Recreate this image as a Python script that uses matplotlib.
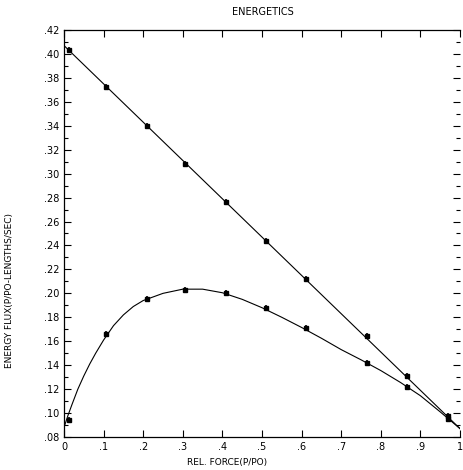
import numpy as np
import matplotlib.pyplot as plt

force_pts = [0.013, 0.105, 0.209, 0.306, 0.41, 0.51, 0.61, 0.766, 0.867, 0.97]
upper_pts = [0.403, 0.3725, 0.340, 0.308, 0.276, 0.244, 0.212, 0.164, 0.131, 0.0975]
lower_pts = [0.094, 0.166, 0.195, 0.203, 0.200, 0.188, 0.171, 0.142, 0.122, 0.095]

# fitted lines
upper_fit_x = [0.0, 1.0]
upper_fit_y = [0.407, 0.087]
lower_fit_x = [0.0, 0.01, 0.02, 0.035, 0.05, 0.065, 0.08, 0.1, 0.125, 0.15, 0.175, 0.2,
               0.25, 0.3, 0.35, 0.4, 0.45, 0.5, 0.55, 0.6, 0.65, 0.7, 0.75, 0.8, 0.85, 0.9, 0.95, 1.0]
lower_fit_y = [0.088, 0.098, 0.107, 0.120, 0.131, 0.141, 0.150, 0.161, 0.173, 0.182, 0.189, 0.194,
               0.200, 0.2035, 0.2035, 0.2005, 0.195, 0.188, 0.180, 0.1715, 0.1625, 0.153, 0.1445,
               0.1355, 0.1255, 0.1145, 0.101, 0.087]

x_ticks = [0, .1, .2, .3, .4, .5, .6, .7, .8, .9, 1.0]
x_labels = ['0', '.1', '.2', '.3', '.4', '.5', '.6', '.7', '.8', '.9', '1']
y_ticks = [.08, .10, .12, .14, .16, .18, .20, .22, .24, .26, .28, .30, .32, .34, .36, .38, .40, .42]
y_labels = ['.%02d' % round(v * 100) for v in y_ticks]

fig = plt.figure(figsize=(4.64, 4.70), dpi=100)
ax = fig.add_axes([64/464, 33/470, 396/464, 407/470])

ax.plot(upper_fit_x, upper_fit_y, color='black', lw=0.8)
ax.plot(lower_fit_x, lower_fit_y, color='black', lw=0.8)
ax.plot(force_pts, upper_pts, 's', color='black', ms=2.5)
ax.plot(force_pts, lower_pts, 's', color='black', ms=2.5)
ax.plot(force_pts, upper_pts, '|', color='black', ms=5, mew=1.2)
ax.plot(force_pts, lower_pts, '|', color='black', ms=5, mew=1.2)

ax.set_xlim(0, 1.0)
ax.set_ylim(0.08, 0.42)
ax.set_xticks(x_ticks)
ax.set_xticklabels(x_labels)
ax.set_yticks(y_ticks)
ax.set_yticklabels(y_labels)
ax.set_yticks(np.arange(0.09, 0.42, 0.02), minor=True)
ax.tick_params(direction='in', length=5, width=0.8, labelsize=7, top=True, right=True)
ax.tick_params(which='minor', direction='in', length=3, width=0.8, right=True)
ax.spines['right'].set_visible(False)
for s in ['left', 'bottom', 'top']:
    ax.spines[s].set_linewidth(0.9)

fig.text(263/464, 1 - 12/470, 'ENERGETICS', ha='center', va='center', fontsize=7)
fig.text(227/464, 1 - 462/470, 'REL. FORCE(P/PO)', ha='center', va='center', fontsize=6.5)
fig.text(10/464, 1 - 290/470, 'ENERGY FLUX(P/PO-LENGTHS/SEC)', ha='center', va='center',
         rotation=90, fontsize=6.5)

fig.savefig('out.png', dpi=100)
